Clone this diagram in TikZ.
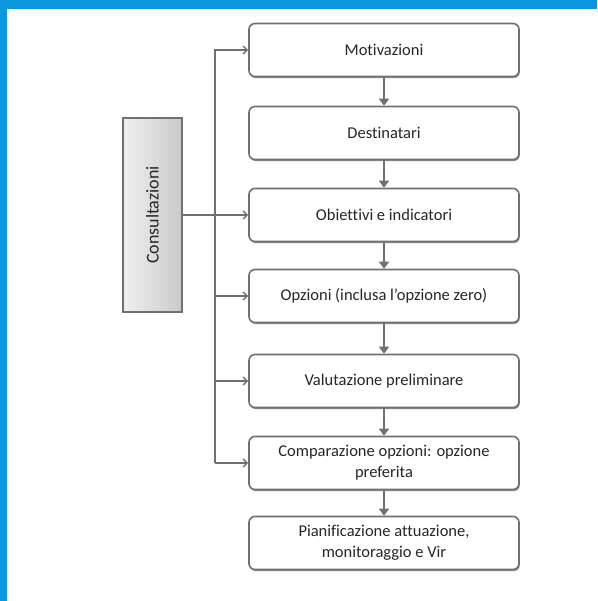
\documentclass[tikz,border=0pt]{standalone}
\usepackage{fontspec}
\setmainfont{Carlito}[Ligatures=CommonOff]
\usetikzlibrary{arrows.meta,shadows}
\definecolor{cornice}{RGB}{11,152,220}
\definecolor{grigio}{RGB}{112,112,112}
\begin{document}
\begin{tikzpicture}[x=1pt,y=-1pt]
    \tikzstyle{every node}=[font=\fontsize{16.5}{21}\selectfont,text=black!85]
    \tikzstyle{fase}=[draw=grigio,line width=1.6pt,rounded corners=6pt,fill=white,
      minimum width=270pt,minimum height=53pt,align=center,
      drop shadow={shadow xshift=0.8pt,shadow yshift=-1.6pt,fill=grigio,opacity=0.8}]
    \tikzstyle{giu}=[draw=grigio,line width=2.2pt,-{Triangle[length=7pt,width=10pt]}]
    \tikzstyle{lato}=[draw=grigio,line width=1.4pt,-{Straight Barb[length=4pt,width=8pt]}]
    \useasboundingbox (0,0) rectangle (597,601);
    \fill[white] (0,0) rectangle (597,601);
    \fill[cornice] (0,0) rectangle (597,9);
    \fill[cornice] (0,0) rectangle (7,601);
    \node[fase] (mot) at (384,50) {Motivazioni};
    \node[fase] (des) at (384,133) {Destinatari};
    \node[fase] (obi) at (384,215) {Obiettivi e indicatori};
    \node[fase] (opz) at (384,296) {Opzioni (inclusa l'opzione zero)};
    \node[fase] (val) at (384,381) {Valutazione preliminare};
    \node[fase] (com) at (384,463) {Comparazione opzioni: opzione\\preferita};
    \node[fase] (pia) at (384,543) {Pianificazione attuazione,\\monitoraggio e Vir};
    \node[draw=grigio,line width=1.4pt,left color=gray!12,right color=gray!42,
      minimum width=59pt,minimum height=194pt,
      drop shadow={shadow xshift=0.8pt,shadow yshift=-1pt,fill=grigio,opacity=0.6}]
      (con) at (152.5,215) {};
    \node[rotate=90,font=\fontsize{18}{22}\selectfont] (cont) at (con) {Consultazioni};
    \coordinate (tr) at (215,0);
    \foreach \a/\b in {mot/des,des/obi,obi/opz,opz/val,val/com,com/pia}
      \draw[giu] (\a) -- (\b);
    \draw[lato] (tr |- com) -- (tr |- mot) -- (mot.west);
    \foreach \n in {opz,val,com} \draw[lato] (tr |- \n) -- (\n.west);
    \draw[lato] (con.east) -- (obi.west);
\end{tikzpicture}
\end{document}
